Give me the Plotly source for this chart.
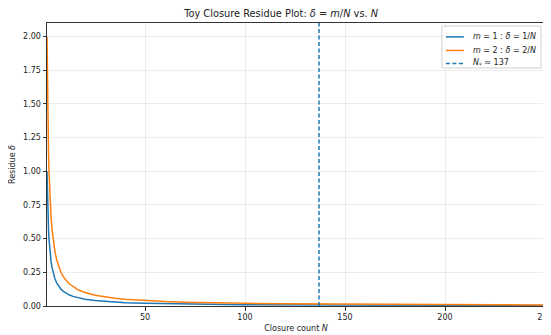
import plotly.graph_objects as go

N_vals = [1, 1.1, 1.2, 1.35, 1.5, 1.75, 2, 2.5, 3, 3.5, 4, 5, 6, 7, 8, 9, 10, 12, 14, 16, 18, 20,
          25, 30, 35, 40, 50, 60, 70, 80, 90, 100, 120, 140, 160, 180, 200, 225, 250]
delta_m1 = [1.0, 0.909, 0.833, 0.741, 0.667, 0.571, 0.5, 0.4, 0.333, 0.286, 0.25, 0.2, 0.167,
            0.143, 0.125, 0.111, 0.1, 0.0833, 0.0714, 0.0625, 0.0556, 0.05, 0.04, 0.0333,
            0.0286, 0.025, 0.02, 0.0167, 0.0143, 0.0125, 0.0111, 0.01, 0.00833, 0.00714,
            0.00625, 0.00556, 0.005, 0.00444, 0.004]
delta_m2 = [2.0, 1.818, 1.667, 1.481, 1.333, 1.143, 1.0, 0.8, 0.667, 0.571, 0.5, 0.4, 0.333,
            0.286, 0.25, 0.222, 0.2, 0.1667, 0.1429, 0.125, 0.1111, 0.1, 0.08, 0.0667,
            0.0571, 0.05, 0.04, 0.0333, 0.0286, 0.025, 0.0222, 0.02, 0.01667, 0.01429,
            0.0125, 0.01111, 0.01, 0.00889, 0.008]
N_star = 137
y_range = [0, 2.1]
x_range = [1, 250]
x_ticks = [50, 100, 150, 200, 250]
y_ticks = [0, 0.25, 0.5, 0.75, 1.0, 1.25, 1.5, 1.75, 2.0]
legend_labels = ["<i>m</i> = 1 : <i>δ</i> = 1/<i>N</i>",
                 "<i>m</i> = 2 : <i>δ</i> = 2/<i>N</i>",
                 "<i>N</i><sub>*</sub> ≈ 137"]

blue = "#1f77b4"
orange = "#ff7f0e"
font = "DejaVu Sans"
dash_style = "4px,2.5px"

fig = go.Figure()
fig.add_trace(go.Scatter(x=N_vals, y=delta_m1, mode="lines", line=dict(color=blue, width=1.5),
                         name=legend_labels[0]))
fig.add_trace(go.Scatter(x=N_vals, y=delta_m2, mode="lines", line=dict(color=orange, width=1.5),
                         name=legend_labels[1]))
fig.add_trace(go.Scatter(x=[N_star, N_star], y=y_range, mode="lines",
                         line=dict(color=blue, width=1.5, dash=dash_style),
                         name=legend_labels[2]))

# compact legend drawn in paper coordinates (matplotlib-like spacing)
box = dict(x0=0.793, x1=0.992, y0=0.841, y1=0.989)
row_y = [0.951, 0.903, 0.857]
styles = [dict(color=blue, width=1.5), dict(color=orange, width=1.5),
          dict(color=blue, width=1.5, dash=dash_style)]
fig.add_shape(type="rect", xref="paper", yref="paper", **box,
              line=dict(color="#d0d0d0", width=1), fillcolor="rgba(255,255,255,0.85)", layer="above")
for ry, st, lab in zip(row_y, styles, legend_labels):
    fig.add_shape(type="line", xref="paper", yref="paper", x0=0.801, x1=0.837, y0=ry, y1=ry,
                  line=st, layer="above")
    fig.add_annotation(xref="paper", yref="paper", x=0.851, y=ry, text=lab, showarrow=False,
                       xanchor="left", yanchor="middle",
                       font=dict(family=font, size=8, color="#222"))

axis_common = dict(showline=True, linecolor="#333", linewidth=1, mirror=True,
                   ticks="outside", ticklen=3.5, tickcolor="#333",
                   showgrid=True, gridcolor="rgba(0,0,0,0.07)", gridwidth=1,
                   zeroline=False, ticklabeloverflow="allow", automargin=False,
                   tickfont=dict(family=font, size=8, color="#222"))

# page body adds an 8px offset; compensate so the plot sits where the reference has it
fig.update_layout(
    width=543, height=327,
    margin=dict(l=39, r=6, t=15, b=29),
    paper_bgcolor="white", plot_bgcolor="white",
    showlegend=False,
    title=dict(text="Toy Closure Residue Plot: <i>δ</i> = <i>m</i>/<i>N</i> vs. <i>N</i>",
               x=0.503, xanchor="center", y=0.995, yanchor="top",
               font=dict(family=font, size=9.8, color="#222")),
    xaxis=dict(range=x_range, tickvals=x_ticks,
               title=dict(text="Closure count <i>N</i>", font=dict(family=font, size=8, color="#222"),
                          standoff=4),
               **axis_common),
    yaxis=dict(range=y_range, tickvals=y_ticks, tickformat=".2f",
               title=dict(text="Residue <i>δ</i>", font=dict(family=font, size=8, color="#222"),
                          standoff=6),
               **axis_common),
)

fig.write_html("out.html")
